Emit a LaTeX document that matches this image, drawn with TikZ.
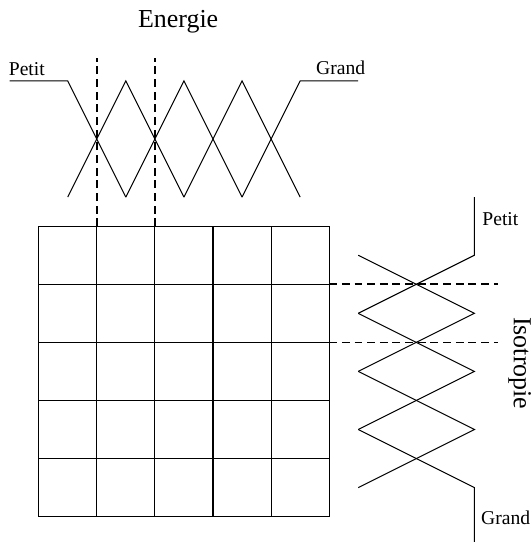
\documentclass[tikz,border=0pt]{standalone}
\usepackage{fontspec}
\setmainfont{Liberation Serif}
\usepackage{tikz}
\usepackage{xcolor}
\tikzset{%
  my dash pattern/.style = {
    dash pattern = {on 3.8pt off 2.4pt},
    line width = 0.8pt,
  },
  fuzzy line/.style = {
    line width = 0.5pt,
  },
  small label/.style = {
    font = \fontsize{9.6}{11}\selectfont,
    inner sep = 0pt,
  },
  big label/.style = {
    font = \fontsize{12.7}{15}\selectfont,
    inner sep = 0pt,
  }
}
\begin{document}
\begin{tikzpicture}
\useasboundingbox (-0.666,-0.436) rectangle (8.49,8.893);
\draw[fuzzy line] (0,0) grid (5,5);
% fonctions d'appartenance Energie
\draw[fuzzy line] (-0.5,7.5) -- (0.5,7.5) -- (1.5,5.5);
\draw[fuzzy line] (0.5,5.5) -- (1.5,7.5) -- (2.5,5.5);
\draw[fuzzy line] (1.5,5.5) -- (2.5,7.5) -- (3.5,5.5);
\draw[fuzzy line] (2.5,5.5) -- (3.5,7.5) -- (4.5,5.5);
\draw[fuzzy line] (3.5,5.5) -- (4.5,7.5) -- (5.5,7.5);
% fonctions d'appartenance Isotropie
\draw[fuzzy line] (7.5,5.5) -- (7.5,4.5) -- (5.5,3.5);
\draw[fuzzy line] (5.5,4.5) -- (7.5,3.5) -- (5.5,2.5);
\draw[fuzzy line] (5.5,3.5) -- (7.5,2.5) -- (5.5,1.5);
\draw[fuzzy line] (5.5,2.5) -- (7.5,1.5) -- (5.5,0.5);
\draw[fuzzy line] (5.5,1.5) -- (7.5,0.5) -- (7.5,-0.6);
\draw[my dash pattern] (1,5) -- (1,7.9);
\draw[my dash pattern] (2,5) -- (2,7.9);
\draw[my dash pattern] (5,4) -- (7.9,4);
\draw[my dash pattern] (5,3) -- (7.9,3);
 \node[big label,anchor=base] (energie) at (2.4,8.42) {Energie};
 \node[big label,anchor=base,rotate=-90] (isotropie) at (8.18,2.64) {Isotropie};
 \node[small label,anchor=base west] (petitE) at (-0.52,7.6) {Petit};
 \node[small label,anchor=base west] (grandE) at (4.77,7.61) {Grand};
 \node[small label,anchor=base west] (petitI) at (7.63,5.01) {Petit};
 \node[small label,anchor=base west] (grandI) at (7.61,-0.14) {Grand};
\end{tikzpicture}
\end{document}
